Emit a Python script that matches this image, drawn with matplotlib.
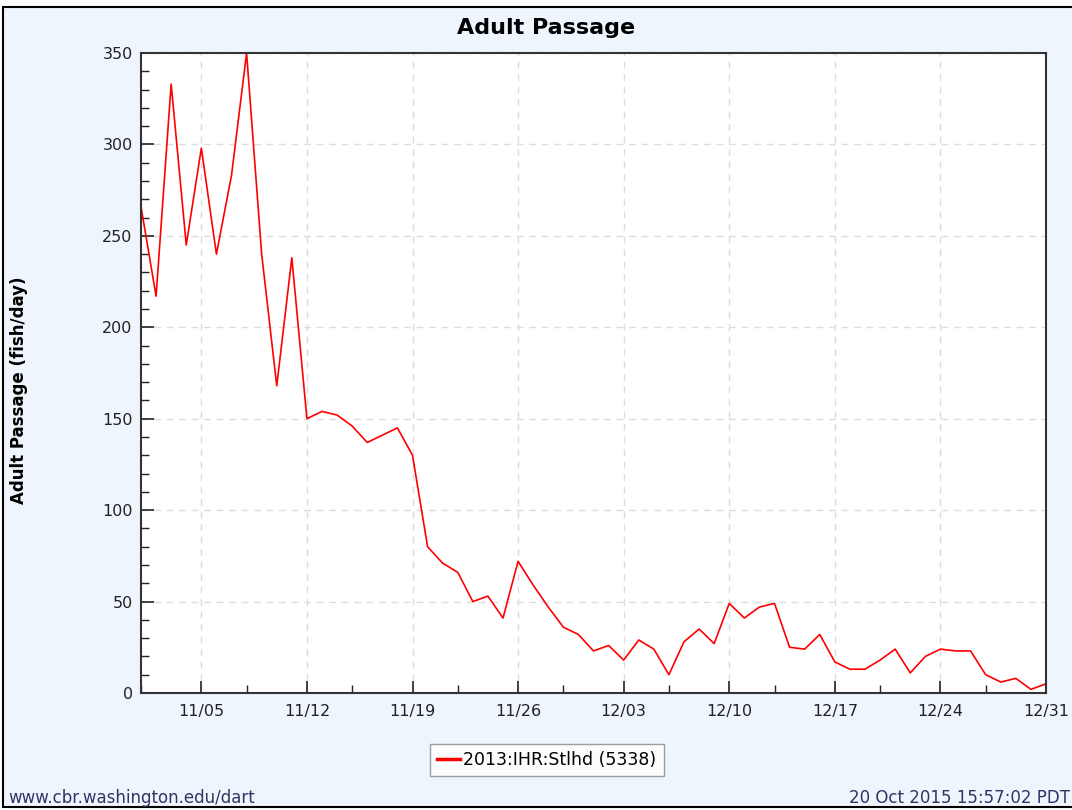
import matplotlib
matplotlib.use("Agg")
import matplotlib.pyplot as plt
import matplotlib.dates as mdates
from matplotlib.patches import Rectangle
import pandas as pd

start_date = "2013-11-01"
passage = [266, 217, 333, 245, 298, 240, 283, 350, 240, 168, 238, 150,
           154, 152, 146, 137, 141, 145, 130, 80, 71, 66, 50, 53, 41, 72,
           59, 47, 36, 32, 23, 26, 18, 29, 24, 10, 28, 35, 27, 49, 41, 47, 49, 25,
           24, 32, 17, 13, 13, 18, 24, 11, 20, 24, 23, 23, 10, 6, 8, 2, 5]
series_label = "2013:IHR:Stlhd (5338)"
title = "Adult Passage"
ylabel = "Adult Passage (fish/day)"
footer_left = "www.cbr.washington.edu/dart"
footer_right = "20 Oct 2015 15:57:02 PDT"
yticks_major = [0, 50, 100, 150, 200, 250, 300, 350]

dates = pd.date_range(start_date, periods=len(passage), freq="D")

W, H = 1072, 810
fig = plt.figure(figsize=(W / 100, H / 100), dpi=100)
fig.patch.set_facecolor("white")
bg = Rectangle((3 / W, 3 / H), 1.2, (807 - 7) / H,
               transform=fig.transFigure, facecolor="#EEF5FC",
               edgecolor="black", linewidth=1.5, zorder=-10)
fig.patches.append(bg)

ax = fig.add_axes([141 / W, 1 - 693 / H, (1046 - 141) / W, (693 - 53) / H])
ax.set_facecolor("white")
ax.plot(dates, passage, color="#FF0000", linewidth=1.2, label=series_label)

ax.set_xlim(dates[0], dates[-1])
ax.set_ylim(0, 350)
ax.set_yticks(yticks_major)
ax.yaxis.set_minor_locator(matplotlib.ticker.MultipleLocator(10))

major = list(pd.date_range("2013-11-05", "2013-12-31", freq="7D"))
minor = list(pd.date_range("2013-11-01", "2013-12-31", freq="7D"))
ax.set_xticks(major)
ax.set_xticks(minor, minor=True)
ax.xaxis.set_major_formatter(mdates.DateFormatter("%m/%d"))

ax.tick_params(axis="both", which="major", direction="in", length=9, width=1.2,
               labelsize=11.5, colors="#222222")
ax.tick_params(axis="both", which="minor", direction="in", length=6, width=1.0,
               colors="#222222")
ax.tick_params(axis="x", which="major", pad=8)
ax.tick_params(axis="y", which="major", pad=6)

ax.grid(True, which="major", color="#DDDDDD", linestyle=(0, (5, 4)), linewidth=1.0)
ax.set_axisbelow(True)
for sp in ax.spines.values():
    sp.set_color("#333333")
    sp.set_linewidth(1.5)

fig.text(546 / W, 1 - 28 / H, title, ha="center", va="center",
         fontsize=16, fontweight="bold", color="black")
fig.text(19 / W, 1 - 390 / H, ylabel, ha="center", va="center", rotation=90,
         fontsize=12, fontweight="bold", color="black")

leg = fig.legend(loc="center", bbox_to_anchor=(547 / W, 1 - 760 / H),
                 fontsize=12.5, frameon=True, fancybox=False, handlelength=1.3,
                 handletextpad=0.2, borderpad=0.4, borderaxespad=0)
leg.get_frame().set_edgecolor("#888888")
leg.get_frame().set_linewidth(1.0)
for l in leg.get_lines():
    l.set_linewidth(2.5)

fig.text(8 / W, 1 - 798 / H, footer_left, ha="left", va="center",
         fontsize=12, color="#333366")
fig.text(1070 / W, 1 - 798 / H, footer_right, ha="right", va="center",
         fontsize=12, color="#333366")

fig.savefig("out.png", dpi=100, facecolor=fig.get_facecolor())
